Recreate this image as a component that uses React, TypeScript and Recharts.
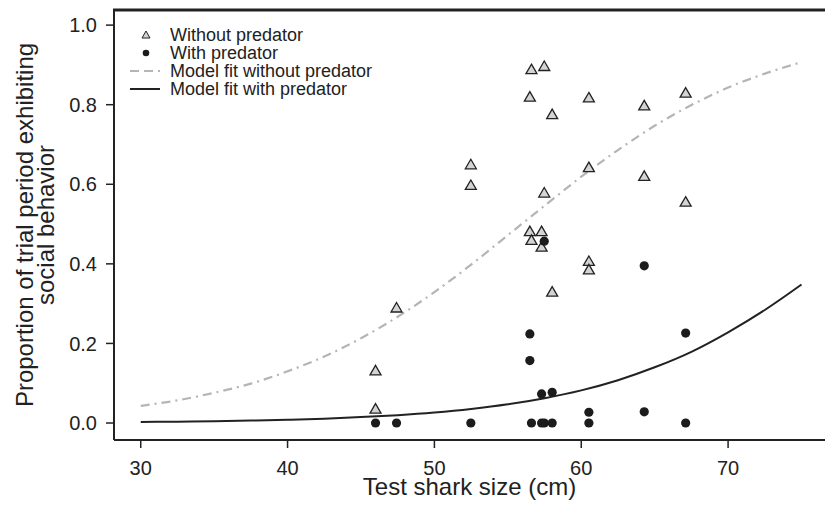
import React from "react";
import { ComposedChart, Scatter, Line, XAxis, YAxis } from "recharts";

// observed proportions, without predator (triangles)
const withoutPredator = [
    { x: 45.99, y: 0.131 },
    { x: 45.99, y: 0.035 },
    { x: 47.42, y: 0.289 },
    { x: 52.48, y: 0.649 },
    { x: 52.48, y: 0.597 },
    { x: 56.61, y: 0.888 },
    { x: 56.5, y: 0.819 },
    { x: 56.5, y: 0.481 },
    { x: 56.61, y: 0.459 },
    { x: 57.3, y: 0.481 },
    { x: 57.3, y: 0.442 },
    { x: 57.48, y: 0.896 },
    { x: 57.48, y: 0.578 },
    { x: 58.02, y: 0.775 },
    { x: 58.02, y: 0.329 },
    { x: 60.52, y: 0.817 },
    { x: 60.52, y: 0.642 },
    { x: 60.52, y: 0.406 },
    { x: 60.52, y: 0.385 },
    { x: 64.29, y: 0.797 },
    { x: 64.29, y: 0.62 },
    { x: 67.11, y: 0.829 },
    { x: 67.11, y: 0.555 },
];

// observed proportions, with predator (circles)
const withPredator = [
    { x: 45.99, y: 0 },
    { x: 47.42, y: 0 },
    { x: 52.48, y: 0 },
    { x: 56.5, y: 0.224 },
    { x: 56.5, y: 0.157 },
    { x: 56.61, y: 0 },
    { x: 57.3, y: 0.073 },
    { x: 57.3, y: 0 },
    { x: 57.48, y: 0.457 },
    { x: 57.48, y: 0 },
    { x: 58.02, y: 0.077 },
    { x: 58.02, y: 0 },
    { x: 60.52, y: 0.027 },
    { x: 60.52, y: 0 },
    { x: 64.29, y: 0.395 },
    { x: 64.29, y: 0.028 },
    { x: 67.11, y: 0.226 },
    { x: 67.11, y: 0 },
];

// model fit curves
const fitSizes = [30, 32.5, 35, 37.5, 40, 42.5, 45, 47.5, 50, 52.5, 55, 57.5, 60, 62.5, 65, 67.5, 70, 72.5, 75];
const fitWithout = [0.043, 0.057, 0.076, 0.099, 0.13, 0.167, 0.213, 0.267, 0.329, 0.398, 0.472, 0.546, 0.619, 0.686, 0.747, 0.799, 0.843, 0.878, 0.907];
const fitWith = [0.0025, 0.0034, 0.0046, 0.0061, 0.0082, 0.011, 0.0148, 0.0198, 0.0265, 0.0354, 0.047, 0.0624, 0.082, 0.1076, 0.14, 0.179, 0.228, 0.284, 0.348];

const xTicks = [30, 40, 50, 60, 70];
const yTicks = [0, 0.2, 0.4, 0.6, 0.8, 1.0];
const xDomain = [28.18, 76.6];
const yDomain = [-0.0427, 1.038];

const fitWithoutData = fitSizes.map((x, i) => ({ x, y: fitWithout[i] }));
const fitWithData = fitSizes.map((x, i) => ({ x, y: fitWith[i] }));

const FONT = "'Liberation Sans', Arial, Helvetica, sans-serif";
const INK = "#222";
const CHART_W = 825;

const Triangle = (props: any) => {
    const { cx, cy } = props;
    if (cx == null || cy == null) return null;
    return (
        <path
            d={`M${cx},${cy - 5.5} L${cx + 5.5},${cy + 4} L${cx - 5.5},${cy + 4} Z`}
            fill="#d4d4d4"
            stroke={INK}
            strokeWidth={1.3}
        />
    );
};

const Dot = (props: any) => {
    const { cx, cy } = props;
    if (cx == null || cy == null) return null;
    return <circle cx={cx} cy={cy} r={4.6} fill="#1c1c1c" />;
};

const legendItems = [
    { label: "Without predator", kind: "triangle" },
    { label: "With predator", kind: "dot" },
    { label: "Model fit without predator", kind: "dashed" },
    { label: "Model fit with predator", kind: "solid" },
];

const LegendIcon = ({ kind }: { kind: string }) => (
    <svg width={30} height={18} style={{ display: "block" }}>
        {kind === "triangle" && (
            <path d="M16,5 L20,12 L12,12 Z" fill="#d4d4d4" stroke={INK} strokeWidth={1} />
        )}
        {kind === "dot" && <circle cx={16} cy={9} r={3.3} fill="#1c1c1c" />}
        {kind === "dashed" && (
            <line x1={0} y1={9} x2={30} y2={9} stroke="#b5b5b5" strokeWidth={2} strokeDasharray="9 5" />
        )}
        {kind === "solid" && <line x1={0} y1={9} x2={30} y2={9} stroke={INK} strokeWidth={2} />}
    </svg>
);

// y title (two lines) plus the top edge of the plot frame
const YTitle = (props: any) => {
    const vb = props.viewBox || {};
    const top = vb.y ?? 10;
    const right = (vb.x ?? 0) + (vb.width ?? 114);
    const cy = top + (vb.height ?? 430) / 2;
    return (
        <g>
            <rect x={right - 1} y={top - 1.5} width={CHART_W - right + 1} height={3} fill={INK} />
            <text
                x={-cy}
                y={33}
                transform="rotate(-90)"
                textAnchor="middle"
                fontFamily={FONT}
                fontSize={24}
                fill={INK}
            >
                Proportion of trial period exhibiting
            </text>
            <text
                x={-cy}
                y={54}
                transform="rotate(-90)"
                textAnchor="middle"
                fontFamily={FONT}
                fontSize={24}
                fill={INK}
            >
                social behavior
            </text>
        </g>
    );
};

export default function App() {
    return (
        <div style={{ position: "absolute", left: 0, top: 0, width: CHART_W, height: 509, background: "#fff" }}>
            <ComposedChart
                width={CHART_W}
                height={509}
                margin={{ top: 10, right: 0, left: 0, bottom: 0 }}
            >
                <XAxis
                    type="number"
                    dataKey="x"
                    domain={xDomain}
                    ticks={xTicks}
                    height={69}
                    allowDataOverflow
                    axisLine={{ stroke: INK, strokeWidth: 2 }}
                    tickLine={{ stroke: INK, strokeWidth: 1.5 }}
                    tickSize={8}
                    tickMargin={13}
                    tick={{ fontFamily: FONT, fontSize: 20, fill: INK }}
                    label={{
                        value: "Test shark size (cm)",
                        position: "insideBottom",
                        offset: 14,
                        style: { fontFamily: FONT, fontSize: 24, fill: INK, textAnchor: "middle" },
                    }}
                />
                <YAxis
                    type="number"
                    dataKey="y"
                    domain={yDomain}
                    ticks={yTicks}
                    width={114}
                    allowDataOverflow
                    axisLine={{ stroke: INK, strokeWidth: 2 }}
                    tickLine={{ stroke: INK, strokeWidth: 1.5 }}
                    tickSize={8}
                    tickMargin={9}
                    tickFormatter={(v: number) => v.toFixed(1)}
                    tick={{ fontFamily: FONT, fontSize: 20, fill: INK }}
                    label={{ content: YTitle }}
                />
                <Line
                    data={fitWithoutData}
                    dataKey="y"
                    type="monotone"
                    stroke="#b5b5b5"
                    strokeWidth={2.2}
                    strokeDasharray="9 5 2 5"
                    dot={false}
                    activeDot={false}
                    isAnimationActive={false}
                />
                <Line
                    data={fitWithData}
                    dataKey="y"
                    type="monotone"
                    stroke={INK}
                    strokeWidth={2}
                    dot={false}
                    activeDot={false}
                    isAnimationActive={false}
                />
                <Scatter data={withoutPredator} dataKey="y" shape={Triangle} isAnimationActive={false} />
                <Scatter data={withPredator} dataKey="y" shape={Dot} isAnimationActive={false} />
            </ComposedChart>
            <div
                style={{
                    position: "absolute",
                    left: 130,
                    top: 26,
                    fontFamily: FONT,
                    fontSize: 18,
                    lineHeight: "18px",
                    color: INK,
                }}
            >
                {legendItems.map((it) => (
                    <div key={it.label} style={{ display: "flex", alignItems: "center", height: 18 }}>
                        <LegendIcon kind={it.kind} />
                        <span style={{ marginLeft: 10, whiteSpace: "nowrap" }}>{it.label}</span>
                    </div>
                ))}
            </div>
        </div>
    );
}
